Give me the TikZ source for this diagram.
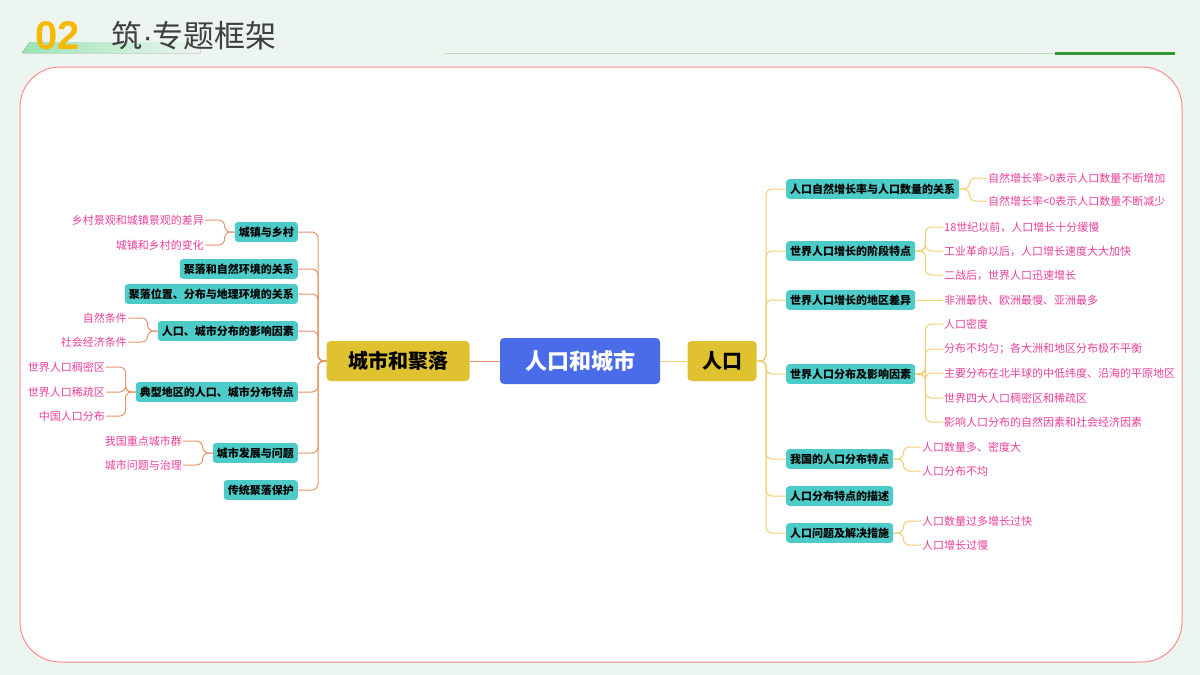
\documentclass[tikz,border=0pt]{standalone}
\usepackage{fontspec}
\setmainfont{Noto Sans CJK SC}
\newfontfamily\latf{Liberation Sans}
\definecolor{boxc}{HTML}{4CCBC8}
\definecolor{leafc}{HTML}{E8409A}
\definecolor{orc}{HTML}{E8946A}
\definecolor{yec}{HTML}{F2CF72}
\definecolor{bgc}{HTML}{EDF5F0}
\definecolor{cenc}{HTML}{4A6CE8}
\definecolor{yelc}{HTML}{E0C230}
\definecolor{numc}{HTML}{F7B900}
\begin{document}
\begin{tikzpicture}[x=1pt,y=-1pt,
 box/.style={fill=boxc,rounded corners=3,inner xsep=4pt,inner ysep=4.5pt,font=\fontsize{11}{13}\selectfont\bfseries,text=black},
 leaf/.style={inner sep=1pt,font=\fontsize{11}{13}\selectfont,text=leafc},
 oc/.style={draw=orc,line width=1pt,rounded corners=6},
 yc/.style={draw=yec,line width=1pt,rounded corners=6}]
\useasboundingbox (0,0) rectangle (1200,675);
\fill[bgc] (0,0) rectangle (1200,675);
\fill[left color=green!45!teal!40,right color=bgc] (30,42)--(200,42)--(200,53)--(22,53)--cycle;
\node[anchor=west,font=\latf\fontsize{40}{44}\selectfont\bfseries,text=numc] (num) at (32,36) {02};
\node[anchor=west,font=\fontsize{31}{34}\selectfont,text=black!75] (ttl) at (108,36) {筑{\latf ·}专题框架};
\draw[green!30!gray!40,line width=0.8pt] (445,53) -- (1175,53);
\draw[green!50!black!80,line width=3pt] (1055,53) -- (1175,53);
\draw[red!45,fill=white,line width=1pt,rounded corners=40] (20,67) rectangle (1182,662);
% main nodes
\node[fill=cenc,rounded corners=4,minimum width=160,minimum height=46,text=white,font=\fontsize{22}{25}\selectfont\bfseries] (c) at (580,361) {人口和城市};
\node[fill=yelc,rounded corners=4,minimum width=143,minimum height=40,font=\fontsize{20}{23}\selectfont\bfseries] (L) at (398,361) {城市和聚落};
\node[fill=yelc,rounded corners=4,minimum width=69,minimum height=40,font=\fontsize{20}{23}\selectfont\bfseries] (R) at (722,361) {人口};
\draw[oc] (c.west) -- (L.east);
\draw[yc] (c.east) -- (R.west);
% left
\coordinate (lt) at (318,361);
\node[box,anchor=east] (a1) at (298,232) {城镇与乡村};
\node[box,anchor=east] (a2) at (298,269) {聚落和自然环境的关系};
\node[box,anchor=east] (a3) at (298,294) {聚落位置、分布与地理环境的关系};
\node[box,anchor=east] (a4) at (298,331) {人口、城市分布的影响因素};
\node[box,anchor=east] (a5) at (298,392) {典型地区的人口、城市分布特点};
\node[box,anchor=east] (a6) at (298,453) {城市发展与问题};
\node[box,anchor=east] (a7) at (298,490) {传统聚落保护};
\foreach \n in {a1,a2,a3,a4,a5,a6,a7} \draw[oc] (L.west) -- (lt) |- (\n.east);
\node[leaf,anchor=east] (a11) at (205,220) {乡村景观和城镇景观的差异};
\node[leaf,anchor=east] (a12) at (205,245) {城镇和乡村的变化};
\node[leaf,anchor=east] (a41) at (128,318) {自然条件};
\node[leaf,anchor=east] (a42) at (128,342) {社会经济条件};
\node[leaf,anchor=east] (a51) at (106,367) {世界人口稠密区};
\node[leaf,anchor=east] (a52) at (106,392) {世界人口稀疏区};
\node[leaf,anchor=east] (a53) at (106,416) {中国人口分布};
\node[leaf,anchor=east] (a61) at (183,441) {我国重点城市群};
\node[leaf,anchor=east] (a62) at (183,465) {城市问题与治理};
\foreach \p/\c in {a1/a11,a1/a12,a4/a41,a4/a42,a5/a51,a5/a52,a5/a53,a6/a61,a6/a62}
  \draw[oc] (\p.west) -- ++(-10,0) |- (\c.east);
% right
\coordinate (rt) at (766,361);
\node[box,anchor=west] (b1) at (786,189) {人口自然增长率与人口数量的关系};
\node[box,anchor=west] (b2) at (786,251) {世界人口增长的阶段特点};
\node[box,anchor=west] (b3) at (786,300) {世界人口增长的地区差异};
\node[box,anchor=west] (b4) at (786,374) {世界人口分布及影响因素};
\node[box,anchor=west] (b5) at (786,459) {我国的人口分布特点};
\node[box,anchor=west] (b6) at (786,496) {人口分布特点的描述};
\node[box,anchor=west] (b7) at (786,533) {人口问题及解决措施};
\foreach \n in {b1,b2,b3,b4,b5,b6,b7} \draw[yc] (R.east) -- (rt) |- (\n.west);
\node[leaf,anchor=west] (b11) at (987,178) {自然增长率>0表示人口数量不断增加};
\node[leaf,anchor=west] (b12) at (987,201) {自然增长率<0表示人口数量不断减少};
\node[leaf,anchor=west] (b21) at (943,227) {18世纪以前，人口增长十分缓慢};
\node[leaf,anchor=west] (b22) at (943,251) {工业革命以后，人口增长速度大大加快};
\node[leaf,anchor=west] (b23) at (943,275) {二战后，世界人口迅速增长};
\node[leaf,anchor=west] (b31) at (943,300) {非洲最快、欧洲最慢、亚洲最多};
\node[leaf,anchor=west] (b41) at (943,324) {人口密度};
\node[leaf,anchor=west] (b42) at (943,349) {分布不均匀；各大洲和地区分布极不平衡};
\node[leaf,anchor=west] (b43) at (943,373) {主要分布在北半球的中低纬度、沿海的平原地区};
\node[leaf,anchor=west] (b44) at (943,398) {世界四大人口稠密区和稀疏区};
\node[leaf,anchor=west] (b45) at (943,422) {影响人口分布的自然因素和社会经济因素};
\node[leaf,anchor=west] (b51) at (921,447) {人口数量多、密度大};
\node[leaf,anchor=west] (b52) at (921,471) {人口分布不均};
\node[leaf,anchor=west] (b71) at (921,521) {人口数量过多增长过快};
\node[leaf,anchor=west] (b72) at (921,545) {人口增长过慢};
\foreach \p/\c in {b1/b11,b1/b12,b2/b21,b2/b22,b2/b23,b4/b41,b4/b42,b4/b43,b4/b44,b4/b45,b5/b51,b5/b52,b7/b71,b7/b72}
  \draw[yc] (\p.east) -- ++(10,0) |- (\c.west);
\draw[yc] (b3.east) -- (b31.west);
\end{tikzpicture}
\end{document}
